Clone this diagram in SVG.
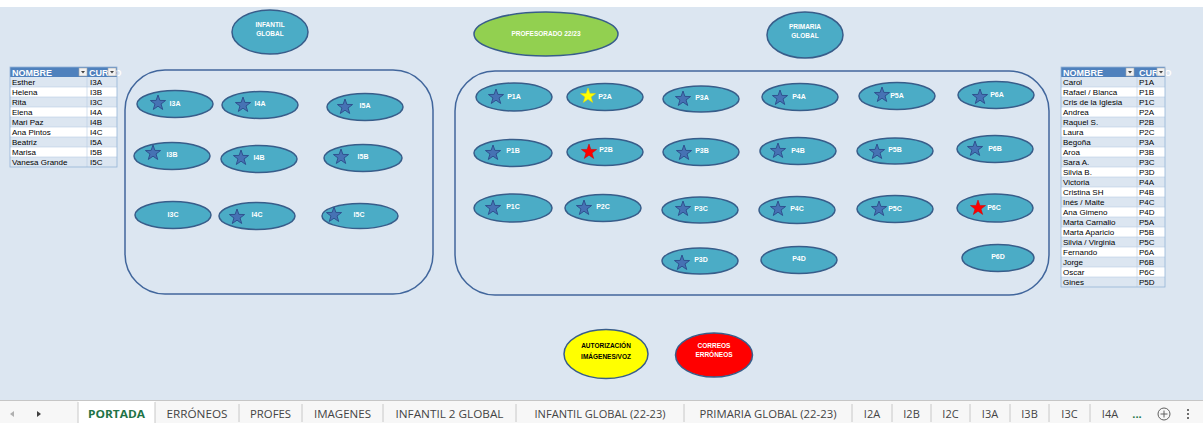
<svg xmlns="http://www.w3.org/2000/svg" xmlns:xlink="http://www.w3.org/1999/xlink" width="1203" height="423" viewBox="0 0 1203 423">
<style>
.bg{fill:#DCE6F1}
.frame{fill:none;stroke:#41669C;stroke-width:1.5}
.nd{fill:#4BACC6;stroke:#385D8A;stroke-width:1.5}
.lbl{font-family:"Liberation Sans",Arial,sans-serif;font-weight:bold;font-size:7px;fill:#FFFFFF;text-anchor:middle}
.tl{font-family:"Liberation Sans",Arial,sans-serif;font-weight:bold;font-size:6.5px;fill:#FFFFFF;text-anchor:middle}
.tlk{font-family:"Liberation Sans",Arial,sans-serif;font-weight:bold;font-size:6.5px;fill:#000000;text-anchor:middle}
.sb{fill:#4672B4;stroke:#2F528F;stroke-width:1}
.sy{fill:#FFFF00;stroke:#E6D800;stroke-width:0.5}
.sr{fill:#FF0000;stroke:#D00000;stroke-width:0.5}
.th{fill:#4F81BD}
.tht{font-family:"Liberation Sans",Arial,sans-serif;font-weight:bold;font-size:9px;fill:#FFFFFF}
.ra{fill:#DCE6F1}
.rb{fill:#FFFFFF}
.grid{stroke:#B8CCE4;stroke-width:0.6}
.tborder{fill:none;stroke:#95B3D7;stroke-width:0.8}
.ct{font-family:"Liberation Sans",Arial,sans-serif;font-size:8px;fill:#000000}
.btn{fill:#F2F2F2;stroke:#A6A6A6;stroke-width:0.6}
.tri{fill:#404040}
.tab{font-family:"Open Sans","Liberation Sans",sans-serif;font-size:11px;fill:#444444;text-anchor:middle}
.tabact{font-family:"Open Sans","Liberation Sans",sans-serif;font-size:11px;font-weight:bold;fill:#217346;text-anchor:middle}
.sep{stroke:#C8C8C8;stroke-width:1}
</style>
<defs>
<path id="star" d="M0,-8 L1.881,-2.589 L7.608,-2.472 L3.043,0.989 L4.702,6.472 L0,3.2 L-4.702,6.472 L-3.043,0.989 L-7.608,-2.472 L-1.881,-2.589 Z"/>
<g id="dd"><rect class="btn" x="0" y="0" width="8" height="8"/><path class="tri" d="M2,3 L6,3 L4,5.5 Z"/></g>
</defs>

<rect x="0" y="0" width="1203" height="423" fill="#FFFFFF"/>
<rect class="bg" x="0" y="7" width="1203" height="393"/>

<g id="frames">
<rect class="frame" x="125" y="70" width="308" height="224" rx="40" ry="40"/>
<rect class="frame" x="455" y="71" width="594" height="224" rx="40" ry="40"/>
</g>

<g id="connectors"></g>

<g id="infantil-global">
<ellipse class="nd" cx="270" cy="32" rx="38" ry="22"/>
<text class="tl" x="270" y="26.5">INFANTIL</text>
<text class="tl" x="270" y="35.5">GLOBAL</text>
</g>
<g id="profesorado">
<ellipse cx="546" cy="34" rx="72" ry="22" fill="#92D050" stroke="#385D8A" stroke-width="1.5"/>
<text class="tl" x="546" y="36">PROFESORADO 22/23</text>
</g>
<g id="primaria-global">
<ellipse class="nd" cx="805" cy="35" rx="38" ry="23"/>
<text class="tl" x="805" y="28.5">PRIMARIA</text>
<text class="tl" x="805" y="37.5">GLOBAL</text>
</g>

<!-- Infantil nodes -->
<g id="I3A"><ellipse class="nd" cx="175" cy="104" rx="38" ry="13.5"/><use href="#star" class="sb" x="158" y="103"/><text class="lbl" x="175" y="105.5">I3A</text></g>
<g id="I4A"><ellipse class="nd" cx="260" cy="105" rx="38" ry="13.5"/><use href="#star" class="sb" x="243" y="105"/><text class="lbl" x="260" y="106">I4A</text></g>
<g id="I5A"><ellipse class="nd" cx="365" cy="107" rx="38" ry="13.5"/><use href="#star" class="sb" x="345" y="107"/><text class="lbl" x="365" y="108">I5A</text></g>
<g id="I3B"><ellipse class="nd" cx="172" cy="156" rx="38" ry="13.5"/><use href="#star" class="sb" x="153" y="153"/><text class="lbl" x="172" y="156.5">I3B</text></g>
<g id="I4B"><ellipse class="nd" cx="259" cy="159" rx="38" ry="13.5"/><use href="#star" class="sb" x="241" y="158"/><text class="lbl" x="259" y="159.5">I4B</text></g>
<g id="I5B"><ellipse class="nd" cx="363" cy="158" rx="39" ry="13.5"/><use href="#star" class="sb" x="341" y="157"/><text class="lbl" x="363" y="159">I5B</text></g>
<g id="I3C"><ellipse class="nd" cx="173" cy="215" rx="38" ry="13.5"/><text class="lbl" x="173" y="216.5">I3C</text></g>
<g id="I4C"><ellipse class="nd" cx="257" cy="216" rx="38" ry="13.5"/><use href="#star" class="sb" x="237" y="217"/><text class="lbl" x="257" y="216.5">I4C</text></g>
<g id="I5C"><ellipse class="nd" cx="360" cy="216" rx="38" ry="12.5"/><use href="#star" class="sb" x="334" y="215"/><text class="lbl" x="359" y="216.5">I5C</text></g>

<!-- Primaria nodes -->
<g id="P1A"><ellipse class="nd" cx="514" cy="97" rx="38" ry="14"/><use href="#star" class="sb" x="496" y="97"/><text class="lbl" x="514" y="98.5">P1A</text></g>
<g id="P2A"><ellipse class="nd" cx="605" cy="97" rx="38" ry="13.5"/><use href="#star" class="sy" x="588" y="96"/><text class="lbl" x="605" y="98.5">P2A</text></g>
<g id="P3A"><ellipse class="nd" cx="701" cy="99" rx="38" ry="13"/><use href="#star" class="sb" x="683" y="99"/><text class="lbl" x="702" y="99.5">P3A</text></g>
<g id="P4A"><ellipse class="nd" cx="800" cy="97" rx="38" ry="13.5"/><use href="#star" class="sb" x="780" y="98"/><text class="lbl" x="799" y="98.5">P4A</text></g>
<g id="P5A"><ellipse class="nd" cx="897" cy="96" rx="38" ry="13.5"/><use href="#star" class="sb" x="882" y="95"/><text class="lbl" x="897" y="97.5">P5A</text></g>
<g id="P6A"><ellipse class="nd" cx="996" cy="95" rx="38" ry="13.5"/><use href="#star" class="sb" x="980" y="97"/><text class="lbl" x="997" y="96.5">P6A</text></g>

<g id="P1B"><ellipse class="nd" cx="513" cy="153" rx="39" ry="13.5"/><use href="#star" class="sb" x="493" y="153"/><text class="lbl" x="513" y="152.5">P1B</text></g>
<g id="P2B"><ellipse class="nd" cx="605" cy="152" rx="38" ry="13.5"/><use href="#star" class="sr" x="589" y="152"/><text class="lbl" x="606" y="152">P2B</text></g>
<g id="P3B"><ellipse class="nd" cx="701" cy="152" rx="38" ry="13.5"/><use href="#star" class="sb" x="684" y="153"/><text class="lbl" x="702" y="152.5">P3B</text></g>
<g id="P4B"><ellipse class="nd" cx="798" cy="151" rx="38" ry="13.5"/><use href="#star" class="sb" x="778" y="151"/><text class="lbl" x="798" y="152.5">P4B</text></g>
<g id="P5B"><ellipse class="nd" cx="895" cy="151" rx="38" ry="13"/><use href="#star" class="sb" x="877" y="152"/><text class="lbl" x="895" y="152">P5B</text></g>
<g id="P6B"><ellipse class="nd" cx="995" cy="149" rx="38" ry="13.5"/><use href="#star" class="sb" x="975" y="149"/><text class="lbl" x="995" y="150.5">P6B</text></g>

<g id="P1C"><ellipse class="nd" cx="513" cy="208" rx="39" ry="14"/><use href="#star" class="sb" x="493" y="208"/><text class="lbl" x="513" y="208.5">P1C</text></g>
<g id="P2C"><ellipse class="nd" cx="603" cy="208" rx="38" ry="13.5"/><use href="#star" class="sb" x="584" y="208"/><text class="lbl" x="603" y="209">P2C</text></g>
<g id="P3C"><ellipse class="nd" cx="700" cy="210" rx="38" ry="13"/><use href="#star" class="sb" x="683" y="209"/><text class="lbl" x="701" y="211">P3C</text></g>
<g id="P4C"><ellipse class="nd" cx="797" cy="210" rx="38" ry="13.5"/><use href="#star" class="sb" x="778" y="209"/><text class="lbl" x="797" y="210.5">P4C</text></g>
<g id="P5C"><ellipse class="nd" cx="895" cy="209" rx="38" ry="13.5"/><use href="#star" class="sb" x="879" y="209"/><text class="lbl" x="895" y="210.5">P5C</text></g>
<g id="P6C"><ellipse class="nd" cx="995" cy="208" rx="38" ry="14"/><use href="#star" class="sr" x="978" y="208"/><text class="lbl" x="994" y="209.5">P6C</text></g>

<g id="P3D"><ellipse class="nd" cx="700" cy="261" rx="38" ry="13"/><use href="#star" class="sb" x="682" y="263"/><text class="lbl" x="701" y="261.5">P3D</text></g>
<g id="P4D"><ellipse class="nd" cx="799" cy="260" rx="38" ry="13.5"/><text class="lbl" x="799" y="260.5">P4D</text></g>
<g id="P6D"><ellipse class="nd" cx="998" cy="258" rx="36" ry="13.5"/><text class="lbl" x="998" y="259">P6D</text></g>

<!-- bottom nodes -->
<g id="autorizacion">
<ellipse cx="606" cy="354" rx="42" ry="24.5" fill="#FFFF00" stroke="#385D8A" stroke-width="1.5"/>
<text class="tlk" x="606" y="347.5">AUTORIZACIÓN</text>
<text class="tlk" x="606" y="358.5">IMÁGENES/VOZ</text>
</g>
<g id="correos">
<ellipse cx="714" cy="355" rx="38.5" ry="22" fill="#FF0000" stroke="#385D8A" stroke-width="1.5"/>
<text class="tl" x="714" y="347.5">CORREOS</text>
<text class="tl" x="714" y="357">ERRÓNEOS</text>
</g>

<!-- Left table -->
<g id="tabla-infantil">
<rect class="th" x="10" y="67" width="107" height="10"/>
<text class="tht" x="12" y="75.5">NOMBRE</text>
<text class="tht" x="89" y="75.5">CURSO</text>
<use href="#dd" x="79" y="68"/>
<use href="#dd" x="108" y="68"/>
<rect class="ra" x="10" y="77" width="107" height="10"/>
<rect class="rb" x="10" y="87" width="107" height="10"/>
<rect class="ra" x="10" y="97" width="107" height="10"/>
<rect class="rb" x="10" y="107" width="107" height="10"/>
<rect class="ra" x="10" y="117" width="107" height="10"/>
<rect class="rb" x="10" y="127" width="107" height="10"/>
<rect class="ra" x="10" y="137" width="107" height="10"/>
<rect class="rb" x="10" y="147" width="107" height="10"/>
<rect class="ra" x="10" y="157" width="107" height="10"/>
<path class="grid" d="M10,87H117M10,97H117M10,107H117M10,117H117M10,127H117M10,137H117M10,147H117M10,157H117M87,77V167"/>
<rect class="tborder" x="10" y="67" width="107" height="100"/>
<g class="ct">
<text x="12" y="84.8">Esther</text><text x="90" y="84.8">I3A</text>
<text x="12" y="94.8">Helena</text><text x="90" y="94.8">I3B</text>
<text x="12" y="104.8">Rita</text><text x="90" y="104.8">I3C</text>
<text x="12" y="114.8">Elena</text><text x="90" y="114.8">I4A</text>
<text x="12" y="124.8">Mari Paz</text><text x="90" y="124.8">I4B</text>
<text x="12" y="134.8">Ana Pintos</text><text x="90" y="134.8">I4C</text>
<text x="12" y="144.8">Beatriz</text><text x="90" y="144.8">I5A</text>
<text x="12" y="154.8">Marisa</text><text x="90" y="154.8">I5B</text>
<text x="12" y="164.8">Vanesa Grande</text><text x="90" y="164.8">I5C</text>
</g>
</g>

<!-- Right table -->
<g id="tabla-primaria">
<rect class="th" x="1061" y="67" width="104" height="10"/>
<text class="tht" x="1063" y="75.5">NOMBRE</text>
<text class="tht" x="1139" y="75.5">CURSO</text>
<use href="#dd" x="1126" y="68"/>
<use href="#dd" x="1157" y="68"/>
<rect class="ra" x="1061" y="77" width="104" height="10"/>
<rect class="rb" x="1061" y="87" width="104" height="10"/>
<rect class="ra" x="1061" y="97" width="104" height="10"/>
<rect class="rb" x="1061" y="107" width="104" height="10"/>
<rect class="ra" x="1061" y="117" width="104" height="10"/>
<rect class="rb" x="1061" y="127" width="104" height="10"/>
<rect class="ra" x="1061" y="137" width="104" height="10"/>
<rect class="rb" x="1061" y="147" width="104" height="10"/>
<rect class="ra" x="1061" y="157" width="104" height="10"/>
<rect class="rb" x="1061" y="167" width="104" height="10"/>
<rect class="ra" x="1061" y="177" width="104" height="10"/>
<rect class="rb" x="1061" y="187" width="104" height="10"/>
<rect class="ra" x="1061" y="197" width="104" height="10"/>
<rect class="rb" x="1061" y="207" width="104" height="10"/>
<rect class="ra" x="1061" y="217" width="104" height="10"/>
<rect class="rb" x="1061" y="227" width="104" height="10"/>
<rect class="ra" x="1061" y="237" width="104" height="10"/>
<rect class="rb" x="1061" y="247" width="104" height="10"/>
<rect class="ra" x="1061" y="257" width="104" height="10"/>
<rect class="rb" x="1061" y="267" width="104" height="10"/>
<rect class="ra" x="1061" y="277" width="104" height="10"/>
<path class="grid" d="M1061,87H1165M1061,97H1165M1061,107H1165M1061,117H1165M1061,127H1165M1061,137H1165M1061,147H1165M1061,157H1165M1061,167H1165M1061,177H1165M1061,187H1165M1061,197H1165M1061,207H1165M1061,217H1165M1061,227H1165M1061,237H1165M1061,247H1165M1061,257H1165M1061,267H1165M1061,277H1165M1137,77V287"/>
<rect class="tborder" x="1061" y="67" width="104" height="220"/>
<g class="ct">
<text x="1063" y="84.8">Carol</text><text x="1139" y="84.8">P1A</text>
<text x="1063" y="94.8">Rafael / Blanca</text><text x="1139" y="94.8">P1B</text>
<text x="1063" y="104.8">Cris de la Iglesia</text><text x="1139" y="104.8">P1C</text>
<text x="1063" y="114.8">Andrea</text><text x="1139" y="114.8">P2A</text>
<text x="1063" y="124.8">Raquel S.</text><text x="1139" y="124.8">P2B</text>
<text x="1063" y="134.8">Laura</text><text x="1139" y="134.8">P2C</text>
<text x="1063" y="144.8">Begoña</text><text x="1139" y="144.8">P3A</text>
<text x="1063" y="154.8">Aroa</text><text x="1139" y="154.8">P3B</text>
<text x="1063" y="164.8">Sara A.</text><text x="1139" y="164.8">P3C</text>
<text x="1063" y="174.8">Silvia B.</text><text x="1139" y="174.8">P3D</text>
<text x="1063" y="184.8">Victoria</text><text x="1139" y="184.8">P4A</text>
<text x="1063" y="194.8">Cristina SH</text><text x="1139" y="194.8">P4B</text>
<text x="1063" y="204.8">Inés / Maite</text><text x="1139" y="204.8">P4C</text>
<text x="1063" y="214.8">Ana Gimeno</text><text x="1139" y="214.8">P4D</text>
<text x="1063" y="224.8">Marta Carnalio</text><text x="1139" y="224.8">P5A</text>
<text x="1063" y="234.8">Marta Aparicio</text><text x="1139" y="234.8">P5B</text>
<text x="1063" y="244.8">Silvia / Virginia</text><text x="1139" y="244.8">P5C</text>
<text x="1063" y="254.8">Fernando</text><text x="1139" y="254.8">P6A</text>
<text x="1063" y="264.8">Jorge</text><text x="1139" y="264.8">P6B</text>
<text x="1063" y="274.8">Oscar</text><text x="1139" y="274.8">P6C</text>
<text x="1063" y="284.8">Gines</text><text x="1139" y="284.8">P5D</text>
</g>
</g>

<!-- Sheet tab bar -->
<g id="tabbar">
<rect x="0" y="400" width="1203" height="23" fill="#F7F7F7"/>
<line x1="0" y1="400.5" x2="1203" y2="400.5" stroke="#C6C6C6" stroke-width="1"/>
<rect x="78" y="401" width="77" height="22" fill="#FFFFFF"/>
<path d="M10,414 L14,411 L14,417 Z" fill="#B0B0B0"/>
<path d="M37,411 L41,414 L37,417 Z" fill="#404040"/>
<path class="sep" d="M78,402V423M155,402V423M239,404V422M302,404V422M383,404V422M516,404V422M684,404V422M852,404V422M892,404V422M931,404V422M970,404V422M1010,404V422M1049,404V422M1090,404V422"/>
<text class="tabact" x="116.5" y="418" textLength="57" lengthAdjust="spacingAndGlyphs">PORTADA</text>
<text class="tab" x="197" y="418" textLength="61" lengthAdjust="spacingAndGlyphs">ERRÓNEOS</text>
<text class="tab" x="270.5" y="418" textLength="41" lengthAdjust="spacingAndGlyphs">PROFES</text>
<text class="tab" x="342.5" y="418" textLength="57" lengthAdjust="spacingAndGlyphs">IMAGENES</text>
<text class="tab" x="449.5" y="418" textLength="108" lengthAdjust="spacingAndGlyphs">INFANTIL 2 GLOBAL</text>
<text class="tab" x="600" y="418" textLength="131" lengthAdjust="spacingAndGlyphs">INFANTIL GLOBAL (22-23)</text>
<text class="tab" x="768" y="418" textLength="137" lengthAdjust="spacingAndGlyphs">PRIMARIA GLOBAL (22-23)</text>
<text class="tab" x="872" y="418">I2A</text>
<text class="tab" x="911.5" y="418">I2B</text>
<text class="tab" x="950.5" y="418">I2C</text>
<text class="tab" x="990" y="418">I3A</text>
<text class="tab" x="1029.5" y="418">I3B</text>
<text class="tab" x="1069.5" y="418">I3C</text>
<text class="tab" x="1110" y="418">I4A</text>
<text x="1137" y="418" font-family="Open Sans, Liberation Sans, sans-serif" font-size="11" font-weight="bold" fill="#217346" text-anchor="middle">...</text>
<circle cx="1164" cy="414" r="6" fill="none" stroke="#606060" stroke-width="1"/>
<path d="M1160.5,414H1167.5M1164,410.5V417.5" stroke="#606060" stroke-width="1"/>
<circle cx="1188" cy="410" r="1" fill="#404040"/>
<circle cx="1188" cy="414" r="1" fill="#404040"/>
<circle cx="1188" cy="418" r="1" fill="#404040"/>
</g>
</svg>
